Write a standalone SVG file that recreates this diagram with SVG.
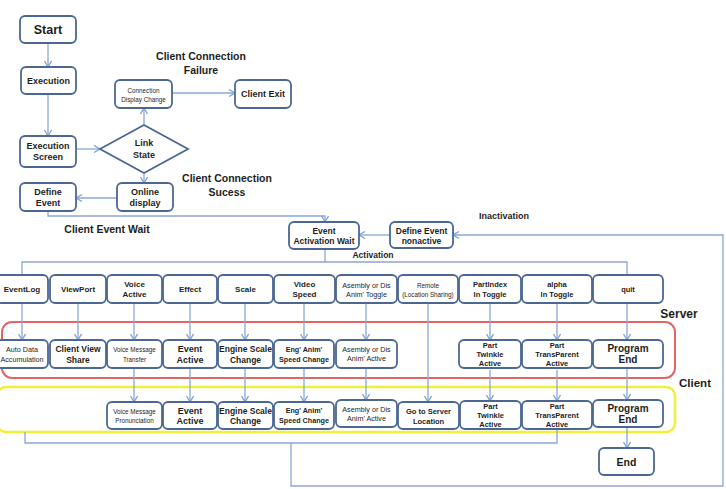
<svg xmlns="http://www.w3.org/2000/svg" width="726" height="489" viewBox="0 0 726 489">
<defs>
<marker id="arr" markerWidth="9" markerHeight="9" refX="7" refY="4" orient="auto" markerUnits="userSpaceOnUse">
<path d="M1,0.5 L7,4 L1,7.5" fill="none" stroke="#7f9fd0" stroke-width="1.3"/>
</marker>
<style>
.box{fill:#fff;stroke:#4a6795;stroke-width:1.8}
.c{fill:none;stroke:#8aa7d4;stroke-width:1.3}
.ca{fill:none;stroke:#8aa7d4;stroke-width:1.3;marker-end:url(#arr)}
text{font-family:"Liberation Sans",Arial,sans-serif;fill:#1e1e1e;text-anchor:middle;dominant-baseline:central}
.b{font-weight:bold}
.lab{font-weight:bold;font-size:10.5px}
.s13{font-size:12.5px;font-weight:bold}
.s11{font-size:10.5px;font-weight:bold}
.s10{font-size:10px;font-weight:bold}
.s9{font-size:9px;font-weight:bold}
.s85{font-size:8.5px;font-weight:bold}
.s8{font-size:8px;font-weight:bold}
.s75{font-size:7.5px;font-weight:bold}
.n7{font-size:7.2px}
.n6{font-size:6.3px}
</style>
</defs>
<rect width="726" height="489" fill="#fff"/>

<!-- zone rectangles -->
<rect x="2" y="322" width="673" height="56" rx="10" fill="none" stroke="#e06666" stroke-width="2"/>
<rect x="-3" y="387" width="678" height="45" rx="9" fill="none" stroke="#f2ee3a" stroke-width="2.5"/>

<!-- free labels -->
<g id="labels">
<text class="lab" x="201" y="56">Client Connection</text>
<text class="lab" x="201" y="70">Failure</text>
<text class="lab" x="227" y="178">Client Connection</text>
<text class="lab" x="227" y="192">Sucess</text>
<text class="lab" x="107" y="229">Client Event Wait</text>
<text class="s9" x="504" y="216">Inactivation</text>
<text class="s85" x="373" y="255">Activation</text>
<text class="b" style="font-size:12px" x="679" y="314">Server</text>
<text class="b" style="font-size:11.5px" x="695" y="383">Client</text>
</g>

<!-- connectors -->
<g id="connectors">
<path class="ca" d="M48,43 V67"/>
<path class="ca" d="M48,94 V136"/>
<path class="ca" d="M76,149 H100"/>
<path class="ca" d="M144,125 V108"/>
<path class="ca" d="M172,93 H235"/>
<path class="ca" d="M144,173 V183"/>
<path class="ca" d="M117,198 H76"/>
<path class="ca" d="M48,211 V216 H325 V222"/>
<path class="ca" d="M390,235 H359"/>
<path class="c" d="M325,249 V262"/>
<path class="c" d="M22,275 V262 H627 V275"/>
<!-- event row to server row -->
<path class="ca" d="M22,303 V340"/>
<path class="ca" d="M78,303 V340"/>
<path class="ca" d="M134,303 V340"/>
<path class="ca" d="M190,303 V340"/>
<path class="ca" d="M245,303 V340"/>
<path class="ca" d="M304,303 V340"/>
<path class="ca" d="M366,303 V340"/>
<path class="ca" d="M428,303 V402"/>
<path class="ca" d="M490,303 V340"/>
<path class="ca" d="M557,303 V340"/>
<path class="ca" d="M627,303 V340"/>
<!-- server row to client row -->
<path class="ca" d="M134,368 V402"/>
<path class="ca" d="M190,368 V402"/>
<path class="ca" d="M245,368 V402"/>
<path class="ca" d="M304,368 V402"/>
<path class="ca" d="M366,368 V400"/>
<path class="ca" d="M490,370 V401"/>
<path class="ca" d="M557,370 V401"/>
<path class="ca" d="M627,368 V400"/>
<path class="ca" d="M627,427 V448"/>
<!-- return loops -->
<path class="c" d="M25,432 V443 H557 V429"/>
<path class="ca" d="M291,443 V486 H723 V235 H453"/>
</g>

<!-- top nodes -->
<g id="start"><rect class="box" x="20" y="16" width="56" height="27" rx="5"/><text class="s13" x="48" y="29.5">Start</text></g>
<g id="execution"><rect class="box" x="21" y="67" width="55" height="27" rx="5"/><text class="s9" x="48.5" y="80.5">Execution</text></g>
<g id="execution-screen"><rect class="box" x="20" y="136" width="56" height="31" rx="5"/><text class="s9" x="48" y="146">Execution</text><text class="s9" x="48" y="157">Screen</text></g>
<g id="link-state"><polygon class="box" points="100,149 144,125 188,149 144,173"/><text class="s9" x="144" y="143">Link</text><text class="s9" x="144" y="155">State</text></g>
<g id="connection-display-change"><rect class="box" x="115" y="80" width="57" height="28" rx="5"/><text class="n6" x="143.5" y="90">Connection</text><text class="n6" x="143.5" y="99">Display Change</text></g>
<g id="client-exit"><rect class="box" x="235" y="80" width="56" height="28" rx="5"/><text class="s9" x="263" y="94">Client Exit</text></g>
<g id="online-display"><rect class="box" x="117" y="183" width="56" height="28" rx="5"/><text class="s9" x="145" y="192">Online</text><text class="s9" x="145" y="203">display</text></g>
<g id="define-event"><rect class="box" x="20" y="183" width="56" height="28" rx="5"/><text class="s9" x="48" y="192">Define</text><text class="s9" x="48" y="203">Event</text></g>
<g id="event-activation-wait"><rect class="box" x="289" y="222" width="70" height="27" rx="5"/><text class="s85" x="324" y="230.5">Event</text><text class="s85" x="324" y="241">Activation Wait</text></g>
<g id="define-event-nonactive"><rect class="box" x="390" y="222" width="63" height="26" rx="5"/><text class="s85" x="421.5" y="230.5">Define Event</text><text class="s85" x="421.5" y="241">nonactive</text></g>

<!-- event row -->
<g id="eventlog"><rect class="box" x="-4" y="275" width="52" height="28" rx="5"/><text class="s8" x="22" y="289">EventLog</text></g>
<g id="viewport"><rect class="box" x="50" y="275" width="56" height="28" rx="5"/><text class="s8" x="78" y="289">ViewPort</text></g>
<g id="voice-active"><rect class="box" x="107" y="275" width="55" height="28" rx="5"/><text class="s8" x="134.5" y="284.5">Voice</text><text class="s8" x="134.5" y="294.5">Active</text></g>
<g id="effect"><rect class="box" x="163" y="275" width="54" height="28" rx="5"/><text class="s8" x="190" y="289">Effect</text></g>
<g id="scale"><rect class="box" x="218" y="275" width="55" height="28" rx="5"/><text class="s8" x="245.5" y="289">Scale</text></g>
<g id="video-speed"><rect class="box" x="274" y="275" width="61" height="28" rx="5"/><text class="s8" x="304.5" y="284.5">Video</text><text class="s8" x="304.5" y="294.5">Speed</text></g>
<g id="asembly-toggle"><rect class="box" x="336" y="275" width="61" height="28" rx="5"/><text class="n7" x="366.5" y="285">Asembly or Dis</text><text class="n7" x="366.5" y="294.5">Anim' Toggle</text></g>
<g id="remote"><rect class="box" x="398" y="275" width="60" height="28" rx="5"/><text class="n6" x="428" y="285">Remote</text><text class="n6" x="428" y="294.5">(Location Sharing)</text></g>
<g id="partindex"><rect class="box" x="459" y="275" width="62" height="28" rx="5"/><text class="s75" x="490" y="284.5">PartIndex</text><text class="s75" x="490" y="294.5">In Toggle</text></g>
<g id="alpha"><rect class="box" x="522" y="275" width="70" height="28" rx="5"/><text class="s75" x="557" y="284.5">alpha</text><text class="s75" x="557" y="294.5">In Toggle</text></g>
<g id="quit"><rect class="box" x="593" y="275" width="70" height="28" rx="5"/><text class="s75" x="628" y="289.5">quit</text></g>

<!-- server row -->
<g id="auto-data"><rect class="box" x="-4" y="340" width="52" height="28" rx="5"/><text class="n7" x="22" y="349.5">Auto Data</text><text class="n7" x="22" y="359">Accumulation</text></g>
<g id="client-view-share"><rect class="box" x="50" y="340" width="56" height="28" rx="5"/><text class="s85" x="78" y="349">Client View</text><text class="s85" x="78" y="359.5">Share</text></g>
<g id="voice-message-transfer"><rect class="box" x="107" y="340" width="55" height="28" rx="5"/><text class="n6" x="134.5" y="349.5">Voice Message</text><text class="n6" x="134.5" y="359">Transfer</text></g>
<g id="event-active-s"><rect class="box" x="163" y="340" width="54" height="28" rx="5"/><text class="s9" x="190" y="348.5">Event</text><text class="s9" x="190" y="359.5">Active</text></g>
<g id="engine-scale-s"><rect class="box" x="218" y="340" width="55" height="28" rx="5"/><text class="s85" x="245.5" y="349">Engine Scale</text><text class="s85" x="245.5" y="359.5">Change</text></g>
<g id="eng-anim-s"><rect class="box" x="274" y="340" width="60" height="28" rx="5"/><text class="n7" x="304" y="349" style="font-weight:bold">Eng' Anim'</text><text class="n7" x="304" y="359" style="font-weight:bold">Speed Change</text></g>
<g id="asembly-active-s"><rect class="box" x="336" y="340" width="61" height="28" rx="5"/><text class="n7" x="366.5" y="349">Asembly or Dis</text><text class="n7" x="366.5" y="358.5">Anim' Active</text></g>
<g id="part-twinkle-s"><rect class="box" x="459" y="340" width="62" height="28" rx="5"/><text class="s75" x="490" y="345">Part</text><text class="s75" x="490" y="354">Twinkle</text><text class="s75" x="490" y="363">Active</text></g>
<g id="part-transparent-s"><rect class="box" x="522" y="340" width="70" height="28" rx="5"/><text class="s75" x="557" y="345">Part</text><text class="s75" x="557" y="354">TransParent</text><text class="s75" x="557" y="363">Active</text></g>
<g id="program-end-s"><rect class="box" x="593" y="340" width="70" height="28" rx="5"/><text class="s10" x="628" y="348.5">Program</text><text class="s10" x="628" y="359.5">End</text></g>

<!-- client row -->
<g id="voice-message-pron"><rect class="box" x="107" y="402" width="55" height="27" rx="5"/><text class="n6" x="134.5" y="411">Voice Message</text><text class="n6" x="134.5" y="420.5">Pronunciation</text></g>
<g id="event-active-c"><rect class="box" x="163" y="402" width="54" height="27" rx="5"/><text class="s9" x="190" y="410.5">Event</text><text class="s9" x="190" y="421">Active</text></g>
<g id="engine-scale-c"><rect class="box" x="218" y="402" width="55" height="27" rx="5"/><text class="s85" x="245.5" y="411">Engine Scale</text><text class="s85" x="245.5" y="421">Change</text></g>
<g id="eng-anim-c"><rect class="box" x="274" y="402" width="60" height="27" rx="5"/><text class="n7" x="304" y="410.5" style="font-weight:bold">Eng' Anim'</text><text class="n7" x="304" y="420" style="font-weight:bold">Speed Change</text></g>
<g id="asembly-active-c"><rect class="box" x="336" y="400" width="61" height="27" rx="5"/><text class="n7" x="366.5" y="409">Asembly or Dis</text><text class="n7" x="366.5" y="418.5">Anim' Active</text></g>
<g id="go-to-server"><rect class="box" x="398" y="402" width="61" height="27" rx="5"/><text class="s75" x="428.5" y="411">Go to Server</text><text class="s75" x="428.5" y="421">Location</text></g>
<g id="part-twinkle-c"><rect class="box" x="460" y="401" width="61" height="28" rx="5"/><text class="s75" x="490.5" y="406">Part</text><text class="s75" x="490.5" y="415">Twinkle</text><text class="s75" x="490.5" y="424">Active</text></g>
<g id="part-transparent-c"><rect class="box" x="522" y="401" width="70" height="28" rx="5"/><text class="s75" x="557" y="406">Part</text><text class="s75" x="557" y="415">TransParent</text><text class="s75" x="557" y="424">Active</text></g>
<g id="program-end-c"><rect class="box" x="593" y="400" width="70" height="27" rx="5"/><text class="s10" x="628" y="408">Program</text><text class="s10" x="628" y="419">End</text></g>
<g id="end"><rect class="box" x="599" y="448" width="55" height="27" rx="5"/><text class="s11" x="626.5" y="461.5">End</text></g>
</svg>
